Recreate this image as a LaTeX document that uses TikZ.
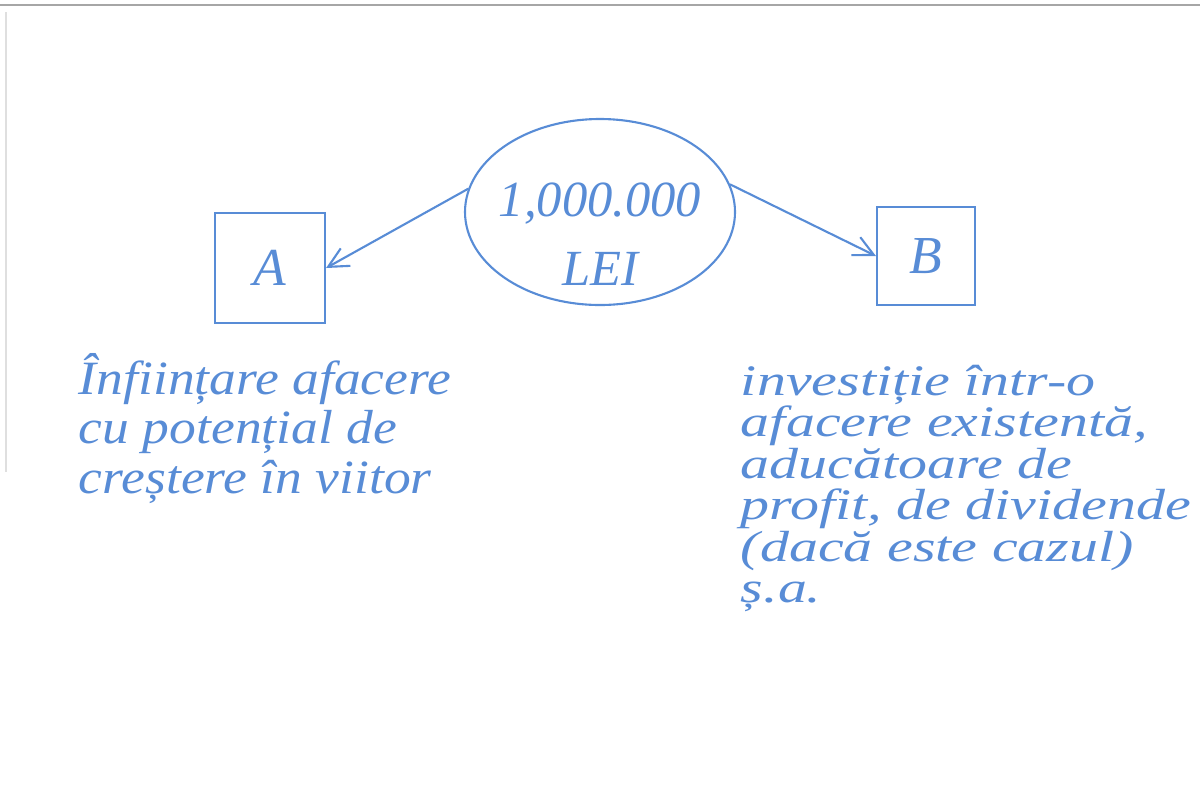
\documentclass[tikz,border=0pt]{standalone}
\usepackage{fontspec}
\setmainfont{Liberation Serif}
\usepackage{tikz}
\usetikzlibrary{arrows.meta}
\usetikzlibrary{shapes.geometric}
\definecolor{pen}{RGB}{88,140,214}

\begin{document}
\begin{tikzpicture}[pen/.style={draw=pen,line width=1.5pt}]
\useasboundingbox (0,0) rectangle (30,-19.675);
\draw[gray!70,line width=1.2pt] (0,-0.12) -- (30,-0.12);
\draw[gray!25,line width=0.8pt] (0.15,-0.3) -- (0.15,-11.8);
\node at (15,-5.3)[ellipse,pen,inner sep=0pt,minimum width=6.75cm,minimum height=4.65cm] (M) {};
\node at ([yshift=-0.55cm]M.center)[text=pen,align=center,font=\fontsize{36}{49}\selectfont\itshape] (Mt) {1,000.000\\LEI};
\node at (6.75,-6.7)[pen,minimum size=2.75cm,text=pen,font=\fontsize{38}{40}\selectfont\itshape] (A) {A};
\node at (23.15,-6.4)[pen,minimum size=2.45cm,text=pen,font=\fontsize{38}{40}\selectfont\itshape] (B) {B};
\draw[pen,-{Straight Barb[length=5mm,width=5mm]}] (M.170) -- (A.east);
\draw[pen,-{Straight Barb[length=5mm,width=5mm]}] (M.12) -- (B.west);
\node at (1.85,-8.7)[anchor=north west,text=pen,align=left,font=\fontsize{34}{35.5}\selectfont\itshape\addfontfeature{FakeStretch=1.12}] (tA) {Înființare afacere\\cu potențial de\\creștere în viitor};
\node at (18.4,-9.0)[anchor=north west,text=pen,align=left,font=\fontsize{31}{29.5}\selectfont\itshape\addfontfeature{FakeStretch=1.33}] (tB) {investiție într-o\\afacere existentă,\\aducătoare de\\profit, de dividende\\(dacă este cazul)\\ș.a.};
\end{tikzpicture}
\end{document}
